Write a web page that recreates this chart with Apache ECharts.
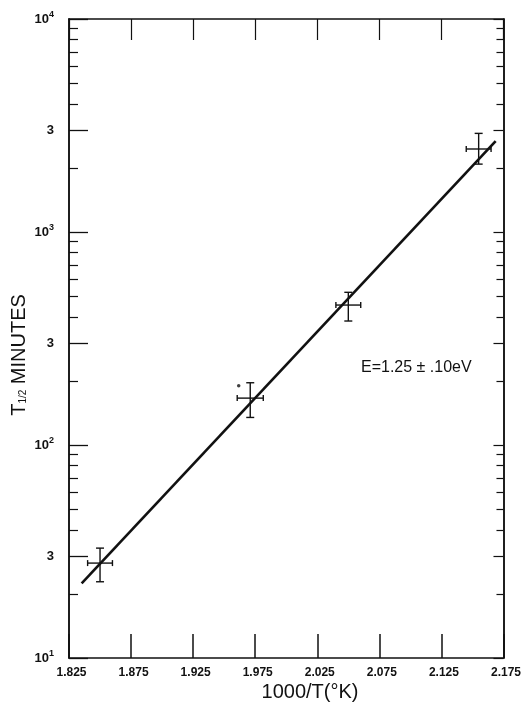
<!DOCTYPE html>
<html><head><meta charset="utf-8">
<script src="https://cdn.jsdelivr.net/npm/echarts@6/dist/echarts.min.js"></script>
<style>html,body{margin:0;padding:0;background:#fff}#c{width:524px;height:706px}</style>
</head><body><div id="c"></div>
<script>
// ---- data ----
const xTicks = [1.825, 1.875, 1.925, 1.975, 2.025, 2.075, 2.125, 2.175];
const xTickLabels = ['1.825', '1.875', '1.925', '1.975', '2.025', '2.075', '2.125', '2.175'];
const yMajorTicks = [10, 30, 100, 300, 1000, 3000, 10000];
const yMinorTicks = [20, 40, 50, 60, 70, 80, 90, 200, 400, 500, 600, 700, 800, 900, 2000, 4000, 5000, 6000, 7000, 8000, 9000];
const ptX = [1.850, 1.971, 2.050, 2.155];
const ptY = [27.9, 166, 454, 2453];
const ptXErr = [0.010, 0.0105, 0.010, 0.010];
const ptYLow = [22.8, 134.7, 382, 2083];
const ptYHigh = [32.8, 196, 521, 2904];
const fitX = [1.8352, 2.1687];
const fitY = [22.4, 2674];
const strayX = [1.9617];
const strayY = [190];
const xTitle = '1000/T(°K)';
const yTitleMain = 'T';
const yTitleSub = '1/2';
const yTitleRest = ' MINUTES';
const annotation = 'E=1.25 ± .10eV';

const INK = '#111';
const FONT = 'Liberation Sans';
const chart = echarts.init(document.getElementById('c'), null, {renderer: 'canvas'});

function yLabel(v) {
  const e = Math.round(Math.log10(v));
  if (Math.abs(v - Math.pow(10, e)) < 1e-6 * v) return '{b|10}{s|' + e + '}';
  return '{b|3}';
}

const baseY = {
  type: 'log', logBase: 10, min: 10, max: 10000,
  axisLine: {show: true, lineStyle: {color: INK, width: 1.5}},
  splitLine: {show: false}, minorTick: {show: false}, minorSplitLine: {show: false}
};
const baseX = {
  type: 'value', min: 1.825, max: 2.175,
  axisLine: {show: true, lineStyle: {color: INK, width: 1.5}},
  splitLine: {show: false}
};

const errData = ptX.map((x, i) => [x, ptY[i], ptXErr[i], ptYLow[i], ptYHigh[i]]);

chart.setOption({
  animation: false,
  backgroundColor: '#fff',
  grid: {left: 69, right: 5, top: 19, bottom: 48, containLabel: false},
  xAxis: [
    Object.assign({}, baseX, {
      position: 'bottom',
      axisTick: {show: true, inside: true, length: 24, customValues: xTicks, lineStyle: {color: INK, width: 1.5}},
      axisLabel: {show: true, customValues: xTicks, margin: 9, padding: [0, 0, 0, 5],
        formatter: v => xTickLabels[xTicks.findIndex(t => Math.abs(t - v) < 1e-6)] || '',
        color: INK, fontFamily: FONT, fontSize: 12, fontWeight: 'bold'}
    }),
    Object.assign({}, baseX, {
      position: 'top',
      axisTick: {show: true, inside: true, length: 21, customValues: xTicks, lineStyle: {color: INK, width: 1.2}},
      axisLabel: {show: false}
    })
  ],
  yAxis: [
    Object.assign({}, baseY, {
      position: 'left',
      axisTick: {show: true, inside: true, length: 19, customValues: yMajorTicks, lineStyle: {color: INK, width: 1.3}},
      axisLabel: {show: true, customValues: yMajorTicks, margin: 15, formatter: yLabel,
        rich: {
          b: {color: INK, fontFamily: FONT, fontSize: 13, fontWeight: 'bold'},
          s: {color: INK, fontFamily: FONT, fontSize: 9, fontWeight: 'bold', padding: [0, 0, 8, 0]}
        }}
    }),
    Object.assign({}, baseY, {
      position: 'left',
      axisTick: {show: true, inside: true, length: 9, customValues: yMinorTicks, lineStyle: {color: INK, width: 1.2}},
      axisLabel: {show: false}
    }),
    Object.assign({}, baseY, {
      position: 'right',
      axisTick: {show: true, inside: true, length: 10, customValues: yMajorTicks, lineStyle: {color: INK, width: 1.2}},
      axisLabel: {show: false}
    }),
    Object.assign({}, baseY, {
      position: 'right',
      axisTick: {show: true, inside: true, length: 7, customValues: yMinorTicks, lineStyle: {color: INK, width: 1.2}},
      axisLabel: {show: false}
    })
  ],
  series: [
    {
      type: 'line', xAxisIndex: 0, yAxisIndex: 0,
      data: fitX.map((x, i) => [x, fitY[i]]),
      symbol: 'none', lineStyle: {color: INK, width: 2.6}, silent: true
    },
    {
      type: 'custom', xAxisIndex: 0, yAxisIndex: 0,
      data: errData,
      encode: {x: 0, y: 1},
      renderItem: function (params, api) {
        const x = api.value(0), y = api.value(1), xe = api.value(2), ylo = api.value(3), yhi = api.value(4);
        const l = api.coord([x - xe, y]), r = api.coord([x + xe, y]);
        const t = api.coord([x, yhi]), b = api.coord([x, ylo]);
        const st = {stroke: INK, lineWidth: 1.4};
        const capH = 3, capV = 4;
        return {
          type: 'group',
          children: [
            {type: 'line', shape: {x1: l[0], y1: l[1], x2: r[0], y2: r[1]}, style: st},
            {type: 'line', shape: {x1: t[0], y1: t[1], x2: b[0], y2: b[1]}, style: st},
            {type: 'line', shape: {x1: l[0], y1: l[1] - capH, x2: l[0], y2: l[1] + capH}, style: st},
            {type: 'line', shape: {x1: r[0], y1: r[1] - capH, x2: r[0], y2: r[1] + capH}, style: st},
            {type: 'line', shape: {x1: t[0] - capV, y1: t[1], x2: t[0] + capV, y2: t[1]}, style: st},
            {type: 'line', shape: {x1: b[0] - capV, y1: b[1], x2: b[0] + capV, y2: b[1]}, style: st}
          ]
        };
      }
    },
    {
      type: 'scatter', xAxisIndex: 0, yAxisIndex: 0,
      data: strayX.map((x, i) => [x, strayY[i]]),
      symbol: 'circle', symbolSize: 3.5, itemStyle: {color: INK}, silent: true
    }
  ],
  graphic: [
    {
      type: 'text', x: 310, y: 692,
      style: {text: xTitle, fill: INK, font: '20px "' + FONT + '"', align: 'center', verticalAlign: 'middle'}
    },
    {
      type: 'text', x: 19, y: 355, rotation: Math.PI / 2,
      style: {
        text: '{t|' + yTitleMain + '}{s|' + yTitleSub + '}{t|' + yTitleRest + '}',
        align: 'center', verticalAlign: 'middle',
        rich: {
          t: {fill: INK, fontFamily: FONT, fontSize: 20},
          s: {fill: INK, fontFamily: FONT, fontSize: 10, padding: [9, 0, 0, 0]}
        }
      }
    },
    {
      type: 'text', x: 361, y: 368,
      style: {text: annotation, fill: INK, font: '16px "' + FONT + '"', align: 'left', verticalAlign: 'middle'}
    }
  ]
});
</script>
</body></html>
